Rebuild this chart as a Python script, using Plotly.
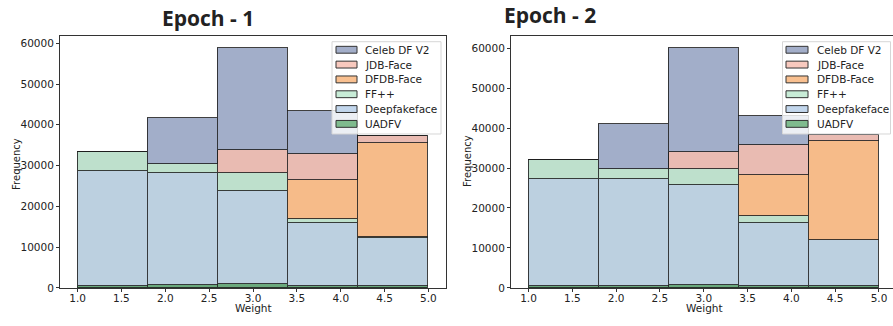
import plotly.graph_objects as go

bin_edges = [1.0, 1.8, 2.6, 3.4, 4.2, 5.0]
series_names = ["Celeb DF V2", "JDB-Face", "DFDB-Face", "FF++", "Deepfakeface", "UADFV"]

# Epoch 1 counts per bin
e1_celeb = [0, 11070, 25140, 10690, 0]
e1_jdb = [0, 0, 5630, 6340, 1690]
e1_dfdb = [0, 0, 0, 9400, 23060]
e1_ff = [4700, 2410, 4410, 1040, 230]
e1_dff = [28100, 27400, 22900, 15500, 11800]
e1_uadfv = [400, 600, 800, 400, 400]

# Epoch 2 counts per bin
e2_celeb = [0, 11160, 26230, 7300, 0]
e2_jdb = [0, 0, 4090, 7280, 1400]
e2_dfdb = [0, 0, 0, 10330, 24830]
e2_ff = [4670, 2460, 4030, 1720, 0]
e2_dff = [26800, 26700, 25000, 15830, 11480]
e2_uadfv = [400, 500, 700, 400, 400]

x_ticks = [1.0, 1.5, 2.0, 2.5, 3.0, 3.5, 4.0, 4.5, 5.0]
y_ticks = [0, 10000, 20000, 30000, 40000, 50000, 60000]

bar_colors = {
    "Celeb DF V2": "#a2aec9",
    "JDB-Face": "#e9bbb2",
    "DFDB-Face": "#f6bb89",
    "FF++": "#bee0cc",
    "Deepfakeface": "#bcd0e0",
    "UADFV": "#6aa97c",
}
legend_colors = {
    "Celeb DF V2": "#a3aec9",
    "JDB-Face": "#f8c9be",
    "DFDB-Face": "#f9c090",
    "FF++": "#c8ecd7",
    "Deepfakeface": "#c2d6ec",
    "UADFV": "#7fbb8e",
}

W, H = 893, 326


def px(x):
    return x / W


def py(y):
    return 1 - y / H


centers = [(a + b) / 2 for a, b in zip(bin_edges[:-1], bin_edges[1:])]
widths = [b - a for a, b in zip(bin_edges[:-1], bin_edges[1:])]

fig = go.Figure()

epochs = [
    ("x", "y", [e1_celeb, e1_jdb, e1_dfdb, e1_ff, e1_dff, e1_uadfv]),
    ("x2", "y2", [e2_celeb, e2_jdb, e2_dfdb, e2_ff, e2_dff, e2_uadfv]),
]

for xa, ya, data in epochs:
    for name, vals in reversed(list(zip(series_names, data))):
        fig.add_trace(go.Bar(
            x=centers, y=vals, width=widths, name=name,
            xaxis=xa, yaxis=ya,
            marker=dict(color=bar_colors[name], line=dict(color="rgba(30,30,30,0.85)", width=1.2)),
            showlegend=False,
        ))

tickfont = dict(family="DejaVu Sans", size=10.5, color="#222")
axis_common = dict(
    showline=True, linecolor="#333", linewidth=1,
    ticks="outside", ticklen=3, tickcolor="#333", tickfont=tickfont,
    showgrid=False, zeroline=False,
)

ydom = [py(293.3), py(37)]
fig.update_layout(
    width=W, height=H,
    margin=dict(l=0, r=0, t=0, b=0),
    paper_bgcolor="white", plot_bgcolor="white",
    barmode="stack", bargap=0, showlegend=False,
    xaxis=dict(domain=[px(60), px(446)], range=[0.8, 5.2], tickvals=x_ticks,
               ticktext=[f"{v:.1f}" for v in x_ticks], anchor="y", mirror=True,
               ticklabelstandoff=-3, **axis_common),
    yaxis=dict(domain=ydom, range=[0, 61700], tickvals=y_ticks,
               ticktext=[str(v) for v in y_ticks], anchor="x", mirror=True, **axis_common),
    xaxis2=dict(domain=[px(511), 1.0], range=[0.8, 5.16], tickvals=x_ticks,
                ticktext=[f"{v:.1f}" for v in x_ticks], anchor="y2", mirror=True,
                ticklabelstandoff=-3, **axis_common),
    yaxis2=dict(domain=ydom, range=[0, 62950], tickvals=y_ticks,
                ticktext=[str(v) for v in y_ticks], anchor="x2", mirror=False, **axis_common),
)

annotations = [
    dict(text="<b>Epoch - 1</b>", x=px(208), y=py(18), font=dict(family="Open Sans", size=21, color="#222")),
    dict(text="<b>Epoch - 2</b>", x=px(550), y=py(15), font=dict(family="Open Sans", size=21, color="#222")),
    dict(text="Weight", x=px(253), y=py(314), font=dict(family="DejaVu Sans", size=10.5, color="#222")),
    dict(text="Weight", x=px(704), y=py(314), font=dict(family="DejaVu Sans", size=10.5, color="#222")),
    dict(text="Frequency", x=px(17), y=py(167), textangle=-90, font=dict(family="DejaVu Sans", size=10, color="#222")),
    dict(text="Frequency", x=px(468), y=py(164), textangle=-90, font=dict(family="DejaVu Sans", size=10, color="#222")),
]
shapes = []

row_y = [50.7, 65.8, 80.9, 96.0, 111.1, 126.2]
legends = [
    dict(box=(332, 42.5, 441, 136.5), patch_x=(336, 357), text_x=363),
    dict(box=(782.5, 42.5, 890.5, 136.5), patch_x=(786, 808), text_x=815),
]
for lg in legends:
    x0, y0, x1, y1 = lg["box"]
    shapes.append(dict(type="rect", xref="paper", yref="paper", x0=px(x0), x1=px(x1), y0=py(y1), y1=py(y0),
                       fillcolor="rgba(255,255,255,0.8)", line=dict(color="#d6d6d6", width=1), layer="above"))
    for name, ry in zip(series_names, row_y):
        shapes.append(dict(type="rect", xref="paper", yref="paper",
                           x0=px(lg["patch_x"][0]), x1=px(lg["patch_x"][1]),
                           y0=py(ry + 3.5), y1=py(ry - 3.5),
                           fillcolor=legend_colors[name], line=dict(color="#333", width=1), layer="above"))
        annotations.append(dict(text=name, x=px(lg["text_x"]), y=py(ry), xanchor="left",
                                font=dict(family="DejaVu Sans", size=10.5, color="#222")))

for a in annotations:
    a.setdefault("xref", "paper")
    a.setdefault("yref", "paper")
    a.setdefault("showarrow", False)
    a.setdefault("xanchor", "center")
    a.setdefault("yanchor", "middle")

fig.update_layout(annotations=annotations, shapes=shapes)

fig.write_html(
    "out.html",
    config={"displayModeBar": False},
    post_script="document.body.style.margin='0';document.body.style.padding='0';document.body.style.overflow='hidden';",
)
